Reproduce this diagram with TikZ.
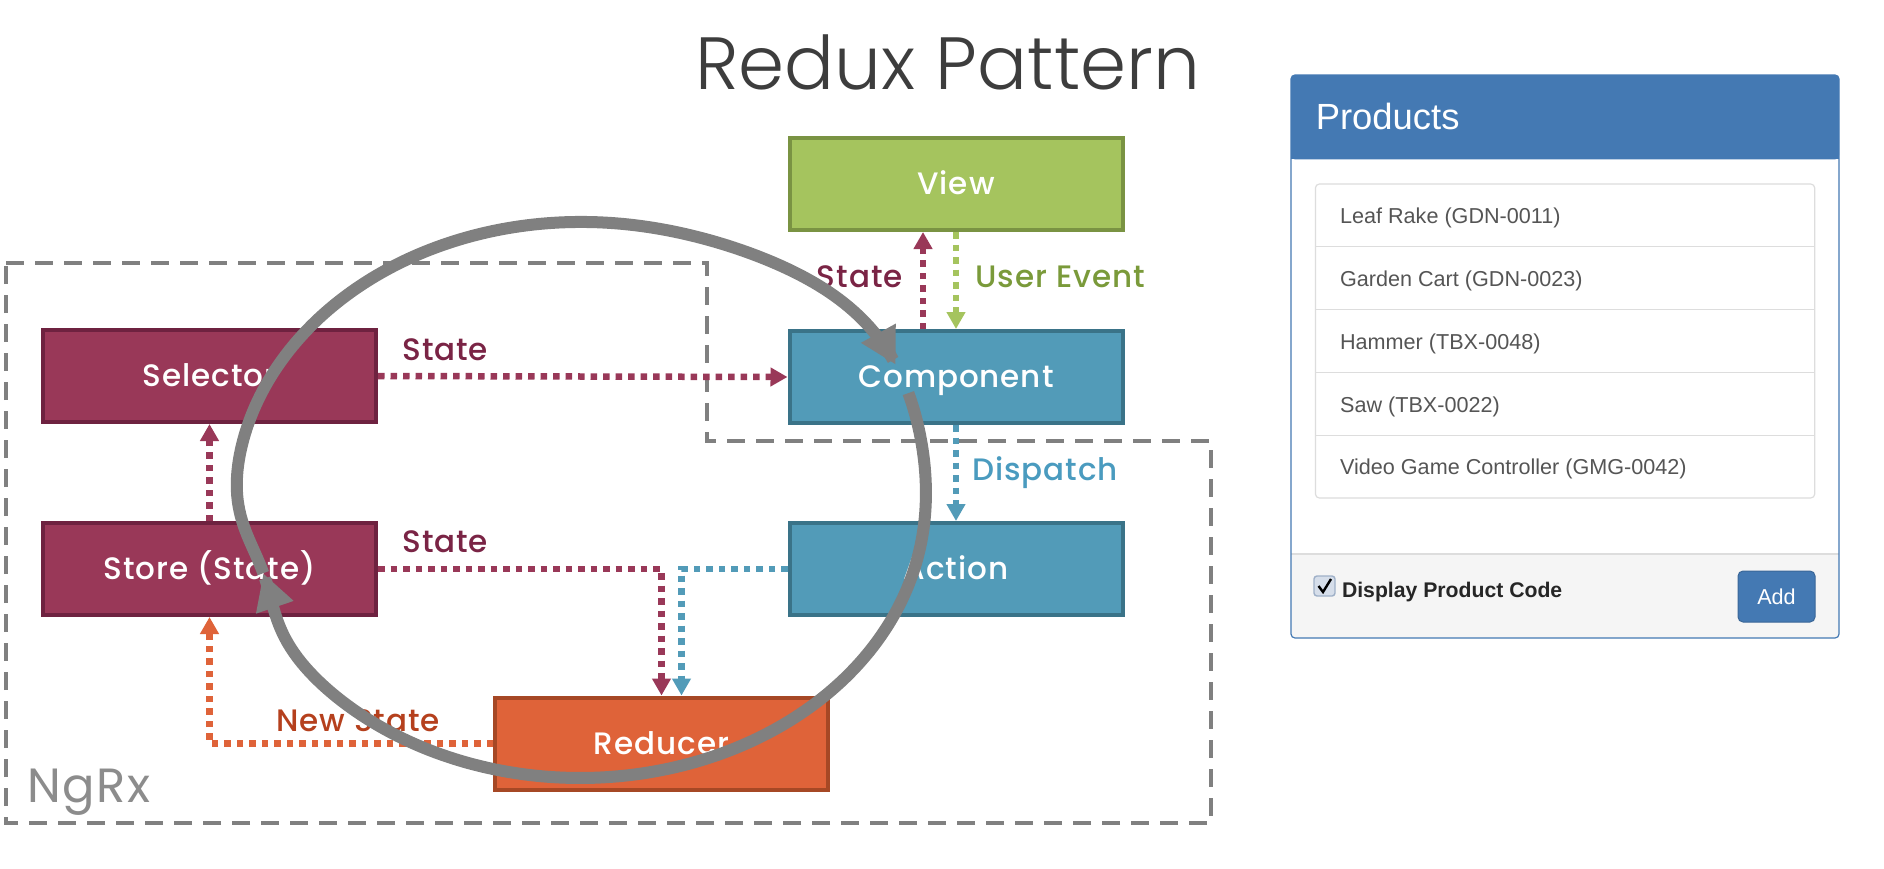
\documentclass[tikz,border=0pt]{standalone}
\usepackage{fontspec}
\setmainfont{Poppins}
\newfontfamily\titlefont{Poppins}[UprightFont=* Light]
\newfontfamily\medfont{Poppins}[UprightFont=* Medium, LetterSpace=3]
\newfontfamily\ngfont{Poppins}[LetterSpace=3]
\newfontfamily\arialfont{Liberation Sans}
\usetikzlibrary{arrows.meta}
\definecolor{cMarF}{HTML}{993858}
\definecolor{cMarD}{HTML}{6E2240}
\definecolor{cMarT}{HTML}{7A2445}
\definecolor{cGrnF}{HTML}{A5C45E}
\definecolor{cGrnD}{HTML}{7A9343}
\definecolor{cGrnT}{HTML}{7A9A3A}
\definecolor{cBluF}{HTML}{529BB8}
\definecolor{cBluD}{HTML}{3A7388}
\definecolor{cBluT}{HTML}{4A9BBF}
\definecolor{cOrgF}{HTML}{DF6339}
\definecolor{cOrgD}{HTML}{A64825}
\definecolor{cOrgT}{HTML}{B5401D}
\definecolor{cGray}{HTML}{808080}
\definecolor{cNg}{HTML}{8C8C8C}
\definecolor{cTitle}{HTML}{3D3D3D}
\definecolor{cPanel}{HTML}{4479B3}
\definecolor{cLine}{HTML}{DDDDDD}
\definecolor{cFoot}{HTML}{F5F5F5}
\definecolor{cText}{HTML}{555555}
\definecolor{cChk}{HTML}{D6DEEA}
\definecolor{cChkB}{HTML}{9FB0C8}
\begin{document}
\begin{tikzpicture}[x=0.5pt,y=-0.5pt,
  declare function={sf(\t)=1+0.045*exp(13.6*(cos(\t+38)-1))-0.045*exp(45.6*(cos(\t-164)-1));},
  box/.style={draw, line width=2pt, minimum width=166.5pt, minimum height=46pt,
    inner sep=0pt, text=white, font=\medfont\fontsize{15.5}{18}\selectfont,
    text height=10.8pt, text depth=0pt},
  flow/.style={line width=3.25pt, dash pattern=on 3.25pt off 3pt,
    -{Triangle[length=8.5pt,width=9pt]}},
  lab/.style={font=\medfont\fontsize{15.5}{18}\selectfont, inner sep=0pt, anchor=base west},
  ngline/.style={cGray, line width=2.35pt, dash pattern=on 9pt off 5.5pt},
  cyc/.style={cGray, line width=6pt, -{Triangle[length=18pt,width=18.5pt]}},
  item/.style={font=\arialfont\fontsize{10.8}{13}\selectfont, text=cText, inner sep=0pt, anchor=base west}
]
\useasboundingbox (0,0) rectangle (1884,868);
\fill[white] (0,0) rectangle (1884,868);

% title
\node[anchor=base west, inner sep=0pt, font=\titlefont\fontsize{37}{44}\selectfont, text=cTitle] (title) at (695,89) {Redux Pattern};

% NgRx region
\draw[ngline] (6,263) -- (707,263) -- (707,441) -- (1211,441) -- (1211,823) -- (6,823) -- cycle;
\node[anchor=base west, inner sep=0pt, font=\ngfont\fontsize{24}{28}\selectfont, text=cNg] (ngrx) at (27,802) {NgRx};

% boxes
\node[box, fill=cMarF, draw=cMarD] (sel) at (209.5,376) {Selector};
\node[box, fill=cMarF, draw=cMarD] (store) at (209.5,569) {Store (State)};
\node[box, fill=cGrnF, draw=cGrnD] (view) at (956,184) {View};
\node[box, fill=cBluF, draw=cBluD] (comp) at (956,377) {Component};
\node[box, fill=cBluF, draw=cBluD] (act) at (956,569) {Action};
\node[box, fill=cOrgF, draw=cOrgD] (red) at (661.5,743.5) {Reducer};

% connectors
\draw[flow, cMarF] (sel.east) -- (comp.west);
\draw[flow, cMarF] (store.north) -- (sel.south);
\draw[flow, cMarF] ([xshift=-16.5pt]comp.north) -- ([xshift=-16.5pt]view.south);
\draw[flow, cGrnF] (view.south) -- (comp.north);
\draw[flow, cBluF] (comp.south) -- (act.north);
\draw[flow, cMarF] (store.east) -| (red.north);
\draw[flow, cBluF] (act.west) -| ([xshift=10pt]red.north);
\draw[flow, cOrgF] (red.west) -| (store.south);

% labels
\node[lab, text=cMarT] (l1) at (402,360) {State};
\node[lab, text=cMarT] (l2) at (402,552) {State};
\node[lab, text=cMarT, anchor=base east] (l3) at (903,287) {State};
\node[lab, text=cGrnT] (l4) at (975,287) {User Event};
\node[lab, text=cBluT] (l5) at (972,480) {Dispatch};
\node[lab, text=cOrgT] (l6) at (276,731) {New State};

% cycle arrow
\draw[cyc] plot[domain=-22:164, samples=160] ({580+345*sf(\x)*cos(\x)},{500+278*sf(\x)*sin(\x)});
\draw[cyc] plot[domain=164:332, samples=160] ({580+345*sf(\x)*cos(\x)},{500+278*sf(\x)*sin(\x)});

% Products panel
\fill[white, rounded corners=2pt] (1291,75) rectangle (1839,638);
\fill[cFoot, rounded corners=2pt] (1291,554) rectangle (1839,638);
\fill[cFoot] (1291,554) rectangle (1839,580);
\fill[cPanel, rounded corners=2pt] (1291,75) rectangle (1839,159.4);
\fill[cPanel] (1291,120) rectangle (1839,159.4);
\draw[cLine, line width=0.6pt] (1291,554) -- (1839,554);
\draw[cPanel, line width=0.6pt, rounded corners=2pt] (1291,75) rectangle (1839,638);
\node[anchor=base west, inner sep=0pt, font=\arialfont\fontsize{18.2}{22}\selectfont, text=white] (ptitle) at (1315.4,129) {Products};

\draw[cLine, line width=0.6pt, rounded corners=2pt] (1315.4,184) rectangle (1814.7,498);
\draw[cLine, line width=0.6pt] (1315.4,246.8) -- (1814.7,246.8);
\draw[cLine, line width=0.6pt] (1315.4,309.6) -- (1814.7,309.6);
\draw[cLine, line width=0.6pt] (1315.4,372.8) -- (1814.7,372.8);
\draw[cLine, line width=0.6pt] (1315.4,435.6) -- (1814.7,435.6);
\node[item] (i1) at (1339.7,223.7) {Leaf Rake (GDN-0011)};
\node[item] (i2) at (1339.7,286.5) {Garden Cart (GDN-0023)};
\node[item] (i3) at (1339.7,349.3) {Hammer (TBX-0048)};
\node[item] (i4) at (1339.7,412.1) {Saw (TBX-0022)};
\node[item] (i5) at (1339.7,474.9) {Video Game Controller (GMG-0042)};

\draw[fill=cChk, draw=cChkB, rounded corners=1.5pt, line width=0.7pt] (1314,576) rectangle (1335,596);
\draw[black, line width=1.2pt] (1318.5,586) -- (1323,592) -- (1331,579);
\node[anchor=base west, inner sep=0pt, font=\arialfont\bfseries\fontsize{10.6}{13}\selectfont, text=black!85] (disp) at (1341.6,597) {Display Product Code};
\node[fill=cPanel, draw=cPanel!85!black, line width=0.5pt, rounded corners=2.5pt, minimum width=38.5pt, minimum height=25.5pt,
  inner sep=0pt, text=white, font=\arialfont\fontsize{10.8}{13}\selectfont, text height=7.7pt, text depth=0pt] (add) at (1776.5,596.5) {Add};
\end{tikzpicture}
\end{document}
